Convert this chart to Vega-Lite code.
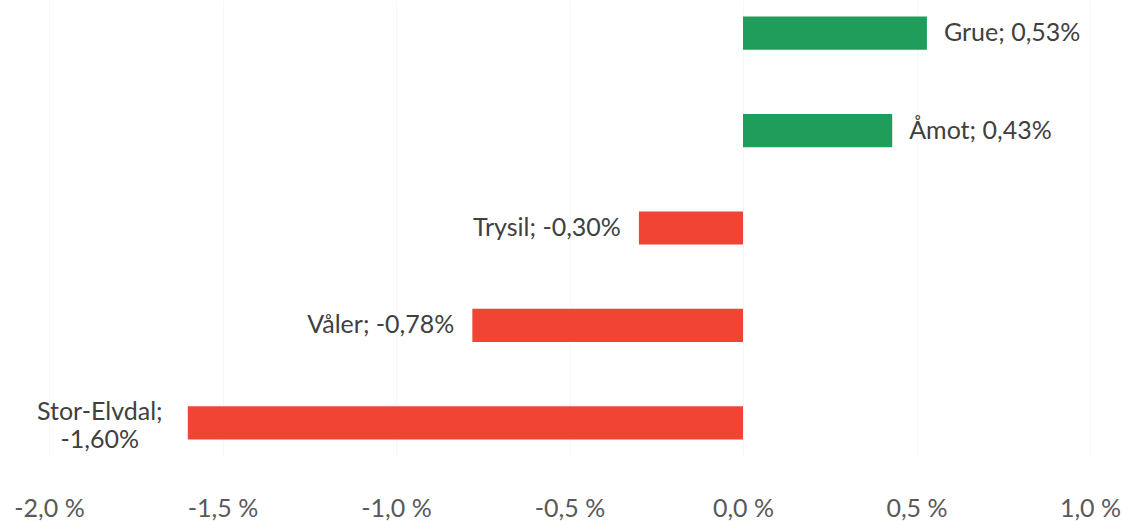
{
  "$schema": "https://vega.github.io/schema/vega-lite/v6.json",
  "width": 1041,
  "height": 456,
  "autosize": {"type": "none"},
  "padding": {"left": 49, "top": 0, "right": 32, "bottom": 65},
  "background": "#ffffff",
  "config": {"view": {"stroke": null}, "font": "Lato"},
  "data": {
    "values": [
      {"kommune": "Grue", "endring": 0.53, "etikett": "Grue; 0,53%"},
      {"kommune": "Åmot", "endring": 0.43, "etikett": "Åmot; 0,43%"},
      {"kommune": "Trysil", "endring": -0.30, "etikett": "Trysil; -0,30%"},
      {"kommune": "Våler", "endring": -0.78, "etikett": "Våler; -0,78%"},
      {"kommune": "Stor-Elvdal", "endring": -1.60, "etikett": "Stor-Elvdal;\n-1,60%"}
    ]
  },
  "encoding": {
    "y": {
      "field": "kommune",
      "type": "nominal",
      "sort": ["Grue", "Åmot", "Trysil", "Våler", "Stor-Elvdal"],
      "scale": {"paddingInner": 0.66, "paddingOuter": 0.17},
      "axis": null
    },
    "x": {
      "field": "endring",
      "type": "quantitative",
      "scale": {"domain": [-2, 1], "nice": false, "zero": false},
      "axis": {
        "values": [-2, -1.5, -1, -0.5, 0, 0.5, 1],
        "labelExpr": "replace(replace(format(datum.value, '.1f'), '.', ','), '−', '-') + ' %'",
        "domain": false,
        "ticks": false,
        "grid": true,
        "gridColor": "#f7f7f7",
        "labelFlush": false,
        "labelPadding": 40,
        "labelFontSize": 25,
        "labelColor": "#595959",
        "labelFont": "Lato",
        "title": null
      }
    }
  },
  "layer": [
    {
      "mark": {"type": "bar"},
      "encoding": {
        "color": {
          "condition": {"test": "datum.endring >= 0", "value": "#1E9E5A"},
          "value": "#F04535"
        }
      }
    },
    {
      "transform": [{"filter": "datum.endring >= 0"}],
      "mark": {"type": "text", "align": "left", "baseline": "middle", "dx": 17, "fontSize": 25, "color": "#404040", "font": "Lato"},
      "encoding": {"text": {"field": "etikett"}}
    },
    {
      "transform": [{"filter": "datum.endring < 0 && datum.endring > -1"}],
      "mark": {"type": "text", "align": "right", "baseline": "middle", "dx": -18, "fontSize": 25, "color": "#404040", "font": "Lato"},
      "encoding": {"text": {"field": "etikett"}}
    },
    {
      "transform": [{"filter": "datum.endring <= -1"}],
      "mark": {"type": "text", "align": "center", "baseline": "middle", "dx": -88, "dy": -11, "lineBreak": "\n", "lineHeight": 28, "fontSize": 25, "color": "#404040", "font": "Lato"},
      "encoding": {"text": {"field": "etikett"}}
    }
  ]
}
